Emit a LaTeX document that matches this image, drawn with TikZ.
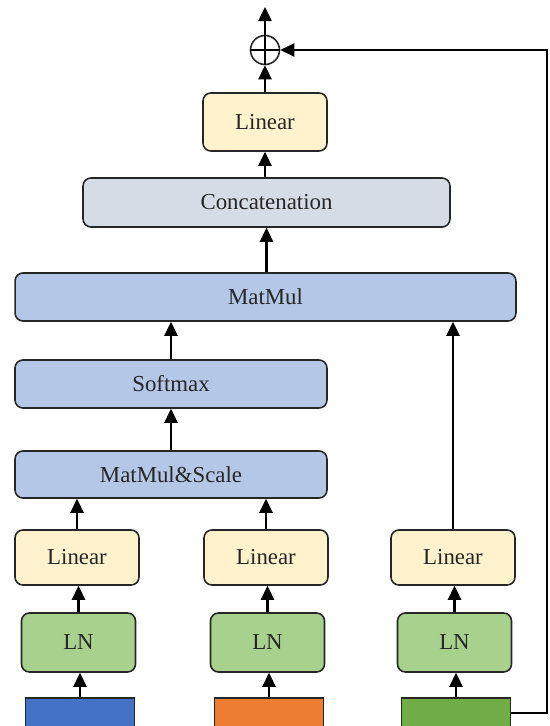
\documentclass[tikz,border=0pt]{standalone}
\usepackage{fontspec}
\setmainfont{Liberation Serif}
\usetikzlibrary{arrows.meta}
\definecolor{linfill}{RGB}{255,242,204}
\definecolor{catfill}{RGB}{214,220,229}
\definecolor{mmfill}{RGB}{180,199,231}
\definecolor{lnfill}{RGB}{169,209,142}
\definecolor{inblue}{RGB}{68,114,196}
\definecolor{inorange}{RGB}{237,125,49}
\definecolor{ingreen}{RGB}{112,173,71}
\tikzset{
  box/.style={draw=black!85, line width=0.9pt, rounded corners=4.5pt, inner sep=0pt,
    text=black!85, font=\fontsize{13}{15}\selectfont},
  inbox/.style={draw=black!85, line width=0.9pt, inner sep=0pt, minimum width=2.18cm, minimum height=0.84cm},
  flow/.style={line width=1.2pt, -{Triangle[length=8pt,width=7.5pt]}},
}
\begin{document}
\begin{tikzpicture}[x=0.02cm,y=-0.02cm]
  \useasboundingbox (0,0) rectangle (550,726);
  \clip (0,0) rectangle (550,726);
  % 输出部分
  \node[box, circle, minimum size=0.58cm] (add) at (265,50) {};
  \draw[line width=0.9pt] (add.north) -- (add.south) (add.west) -- (add.east);
  \coordinate (out) at (265,7);
  \node[box, fill=linfill, minimum width=2.48cm, minimum height=1.16cm] (linout) at (265,122) {Linear};
  \node[box, fill=catfill, minimum width=7.34cm, minimum height=0.98cm] (cat) at (266.5,202.5) {Concatenation};
  % 注意力部分
  \node[box, fill=mmfill, minimum width=10.02cm, minimum height=0.96cm] (mm) at (265.5,297) {MatMul};
  \node[box, fill=mmfill, minimum width=6.24cm, minimum height=0.96cm] (soft) at (171,384) {Softmax};
  \node[box, fill=mmfill, minimum width=6.24cm, minimum height=0.94cm] (mms) at (171,474.5) {MatMul\&Scale};
  % 三个分支
  \foreach \i/\x/\c in {1/77/inblue, 2/266/inorange, 3/453/ingreen} {
    \node[box, fill=linfill, minimum width=2.48cm, minimum height=1.10cm] (lin\i) at (\x,557.5) {Linear};
    \node[box, fill=lnfill, minimum width=2.28cm, minimum height=1.18cm] (ln\i) at (\x+1.5,642.5) {LN};
    \node[inbox, fill=\c] (in\i) at (\x+3,719) {};
    \draw[flow] (in\i.north) -- (in\i.north |- ln\i.south);
    \draw[flow] (ln\i.north) -- (ln\i.north |- lin\i.south);
  }
  % 连线
  \draw[flow] (lin1.north) -- (lin1.north |- mms.south);
  \draw[flow] (lin2.north) -- (lin2.north |- mms.south);
  \draw[flow] (lin3.north) -- (lin3.north |- mm.south);
  \draw[flow] (mms.north) -- (soft.south);
  \draw[flow] (soft.north) -- (soft.north |- mm.south);
  \draw[flow] (cat.south |- mm.north) -- (cat.south);
  \draw[flow] (cat.north -| linout.south) -- (linout.south);
  \draw[flow] (linout.north) -- (add.south);
  \draw[flow] (add.north) -- (out);
  % 残差连接
  \coordinate (fb) at (547,713);
  \draw[flow] (in3.east |- fb) -- (fb) |- (add.east);
\end{tikzpicture}
\end{document}
